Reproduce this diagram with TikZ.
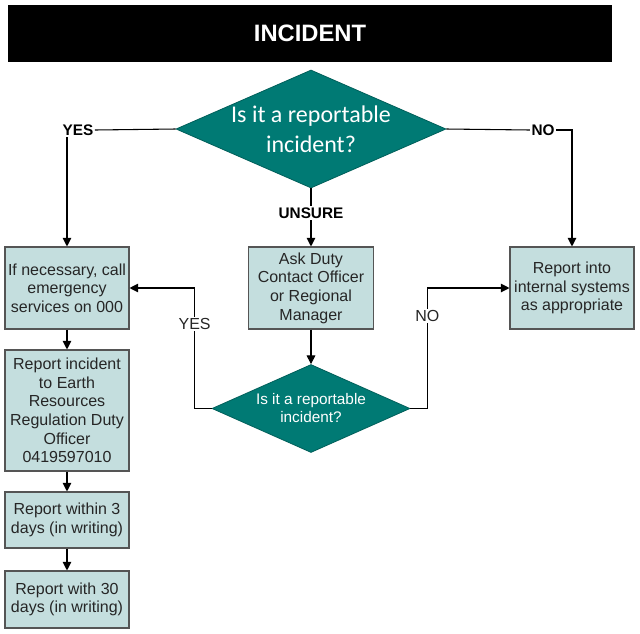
\documentclass[tikz,border=0pt]{standalone}
\usepackage{fontspec}
\setmainfont{Liberation Sans}
\newfontfamily\calfont{Carlito}
\usetikzlibrary{shapes.geometric,arrows.meta}
\definecolor{teal1}{RGB}{0,122,116}
\definecolor{tealdk}{RGB}{0,95,90}
\definecolor{boxfill}{RGB}{196,222,222}
\definecolor{boxline}{RGB}{85,85,85}
\tikzset{
  stepbox/.style={draw=boxline, fill=boxfill, line width=0.8pt, inner sep=0pt, align=center,
    font=\fontsize{12}{14}\selectfont, text=black!85},
  decbox/.style={shape=diamond, draw=tealdk, fill=teal1, inner sep=0pt, line width=0.6pt},
  dtextbig/.style={text=white, align=center, font=\calfont\fontsize{18}{22.5}\selectfont},
  dtextsmall/.style={text=white, align=center, font=\fontsize{11.5}{13.5}\selectfont},
  lblb/.style={fill=white, inner sep=1pt, font=\bfseries\fontsize{11.5}{13}\selectfont},
  lbln/.style={fill=white, inner sep=1pt, font=\fontsize{12}{13}\selectfont, text=black!85},
  conn/.style={draw=black, line width=0.8pt},
  arr/.style={conn, -{Triangle[length=6.5pt,width=6.5pt]}}
}
\begin{document}
\begin{tikzpicture}[x=0.75pt,y=-0.75pt]
\useasboundingbox (0,0) rectangle (640,633);
% title
\node[fill=black, minimum width=453pt, minimum height=42.75pt, inner sep=0pt,
  text=white, font=\bfseries\fontsize{17.8}{20}\selectfont] (title) at (310,33.5) {INCIDENT};
% diamonds
\node[decbox, minimum width=202.5pt, minimum height=88.5pt,
  label={[dtextbig]center:Is it a reportable\\incident?}] (d1) at (311,129) {};
\node[decbox, minimum width=148.5pt, minimum height=66pt,
  label={[dtextsmall]center:Is it a reportable\\incident?}] (d2) at (311,408.5) {};
% boxes
\node[stepbox, minimum width=93pt, minimum height=61.5pt] (b1) at (67,288) {If necessary, call\\emergency\\services on 000};
\node[stepbox, minimum width=93pt, minimum height=90.75pt] (b2) at (67,410.5) {Report incident\\to Earth\\Resources\\Regulation Duty\\Officer\\0419597010};
\node[stepbox, minimum width=93pt, minimum height=42pt] (b3) at (67,520) {Report within 3\\days (in writing)};
\node[stepbox, minimum width=93pt, minimum height=42.75pt] (b4) at (67,599.5) {Report with 30\\days (in writing)};
\node[stepbox, minimum width=93.75pt, minimum height=61.5pt] (m) at (311,288) {Ask Duty\\Contact Officer\\or Regional\\Manager};
\node[stepbox, minimum width=93pt, minimum height=61.5pt] (r) at (572,288) {Report into\\internal systems\\as appropriate};
% labels on the top branches
\node[lblb] (yes1) at (78,130) {YES};
\node[lblb] (no1) at (543,130) {NO};
\node[lblb] (uns) at (311,213) {UNSURE};
% connectors
\draw[conn] (d1.west) -- (yes1.east);
\draw[arr] (yes1.south -| b1.north) -- (b1.north);
\draw[conn] (d1.east) -- (no1.west);
\draw[arr] (no1.east) -| (r.north);
\draw[conn] (d1.south) -- (uns.north);
\draw[arr] (uns.south) -- (m.north);
\draw[arr] (m.south) -- (d2.north);
\draw[arr] (b1.south) -- (b2.north);
\draw[arr] (b2.south) -- (b3.north);
\draw[arr] (b3.south) -- (b4.north);
\draw[arr] (d2.west) -- ++(-17,0) |- node[lbln, pos=0.35] (yes2) {YES} (b1.east);
\draw[arr] (d2.east) -- ++(17,0) |- node[lbln, pos=0.385] (no2) {NO} (r.west);
\end{tikzpicture}
\end{document}
